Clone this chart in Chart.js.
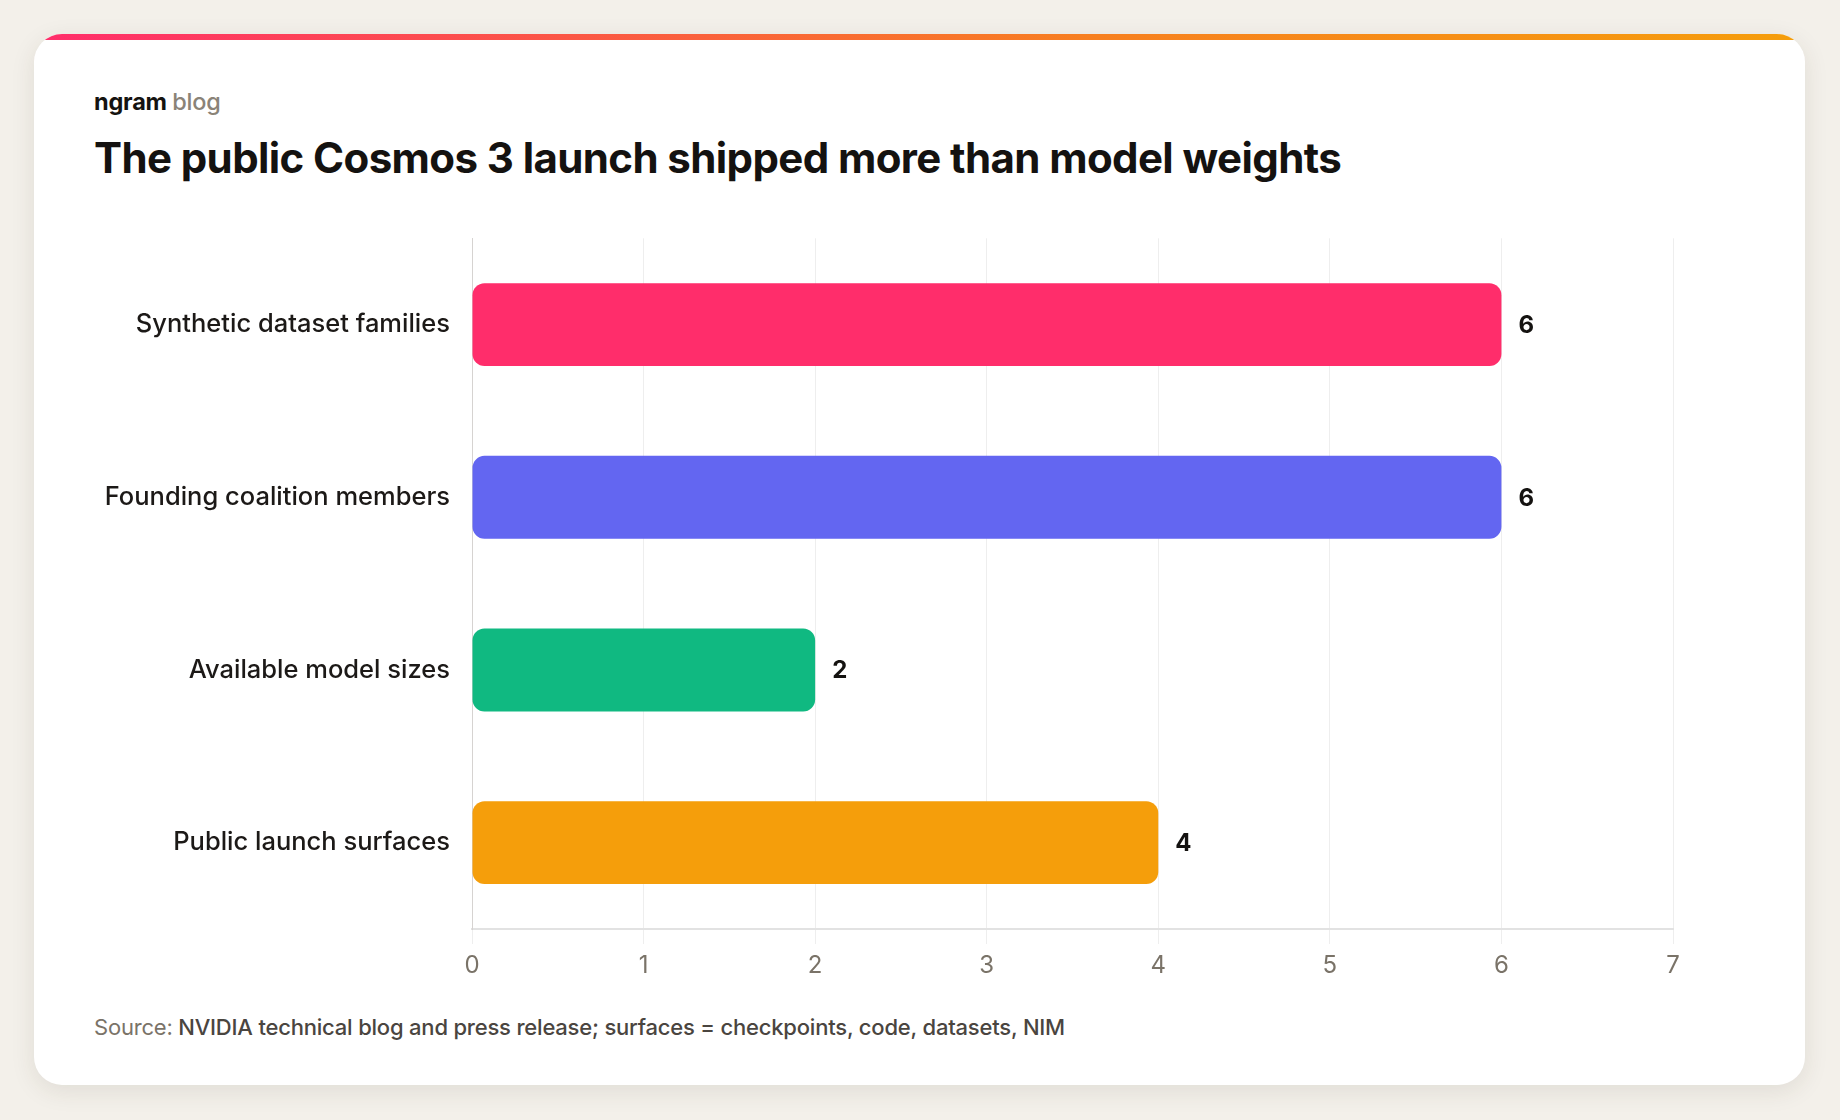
<!DOCTYPE html>
<html>
<head>
<meta charset="utf-8">
<script src="https://cdn.jsdelivr.net/npm/chart.js@4.4.1/dist/chart.umd.min.js"></script>
<style>
  html, body { margin: 0; padding: 0; }
  body {
    width: 1840px; height: 1120px;
    background: #f3f0ea;
    font-family: Inter, "Noto Sans", sans-serif;
    position: relative; overflow: hidden;
  }
  .card {
    position: absolute; left: 34px; top: 34px;
    width: 1771px; height: 1051px;
    background: #fff; border-radius: 28px; overflow: hidden;
    box-shadow: 0 6px 24px rgba(60, 50, 30, 0.10);
  }
  .topbar {
    position: absolute; left: 0; top: 0; right: 0; height: 6px;
    background: linear-gradient(90deg, #ff2d6b 0%, #f7801f 60%, #f59e0b 100%);
  }
  .brand {
    position: absolute; left: 60px; top: 53px;
    font-size: 23.5px; letter-spacing: -0.2px; color: #151310; font-weight: 700;
  }
  .brand span { color: #8a8378; font-weight: 500; }
  .title {
    position: absolute; left: 60px; top: 98px;
    font-size: 42px; font-weight: 700; color: #141210; letter-spacing: -0.6px;
  }
  .chart-box {
    position: absolute; left: 60px; top: 167px;
    width: 1680px; height: 788px;
  }
  .source {
    position: absolute; left: 60px; top: 980px;
    font-size: 22px; color: #4a4540; font-weight: 500; letter-spacing: -0.2px;
  }
  .source span { color: #7a7368; font-weight: 400; }
</style>
</head>
<body>
<div class="card">
  <div class="topbar"></div>
  <div class="brand">ngram <span>blog</span></div>
  <div class="title">The public Cosmos 3 launch shipped more than model weights</div>
  <div class="chart-box"><canvas id="chart"></canvas></div>
  <div class="source"><span>Source:</span> NVIDIA technical blog and press release; surfaces = checkpoints, code, datasets, NIM</div>
</div>
<script>
// chart data
const categories = ['Synthetic dataset families', 'Founding coalition members', 'Available model sizes', 'Public launch surfaces'];
const counts = [6, 6, 2, 4];
const barColors = ['#ff2d6b', '#6366f1', '#10b981', '#f59e0b'];
const xTicks = [0, 1, 2, 3, 4, 5, 6, 7];

// writes the value just past the end of each bar
const valueLabels = {
  id: 'valueLabels',
  afterDatasetsDraw(chart) {
    const ctx = chart.ctx;
    const meta = chart.getDatasetMeta(0);
    ctx.save();
    ctx.font = '700 24px Inter, sans-serif';
    ctx.fillStyle = '#141210';
    ctx.textAlign = 'left';
    ctx.textBaseline = 'middle';
    meta.data.forEach((bar, i) => {
      ctx.fillText(String(counts[i]), bar.x + 17, bar.y + 1);
    });
    ctx.restore();
  }
};

const ctx = document.getElementById('chart').getContext('2d');
new Chart(ctx, {
  type: 'bar',
  data: {
    labels: categories,
    datasets: [{
      data: counts,
      backgroundColor: barColors,
      borderRadius: 12,
      borderSkipped: false,
      barPercentage: 0.6,
      categoryPercentage: 0.8
    }]
  },
  options: {
    indexAxis: 'y',
    responsive: true,
    maintainAspectRatio: false,
    animation: false,
    layout: { padding: { top: 5, right: 101, bottom: 0, left: 0 } },
    plugins: {
      legend: { display: false },
      tooltip: { enabled: false }
    },
    scales: {
      x: {
        min: 0,
        max: 7,
        afterBuildTicks: (scale) => { scale.ticks = xTicks.map(v => ({ value: v })); },
        afterFit: (scale) => { scale.height = 60; },
        grid: { color: '#eeeeee', lineWidth: 1, tickLength: 15, tickColor: '#eeeeee' },
        border: { color: '#e2e2e2', width: 2 },
        ticks: {
          padding: 7,
          color: '#7a7368',
          font: { family: 'Inter, sans-serif', size: 24, weight: 400 }
        }
      },
      y: {
        afterFit: (scale) => { scale.width = 378; },
        grid: { display: false, drawTicks: false },
        border: { color: '#d6d3d1', width: 1 },
        ticks: {
          padding: 22,
          color: '#1c1917',
          font: { family: 'Inter, sans-serif', size: 25.5, weight: 500 }
        }
      }
    }
  },
  plugins: [valueLabels]
});
</script>
</body>
</html>
